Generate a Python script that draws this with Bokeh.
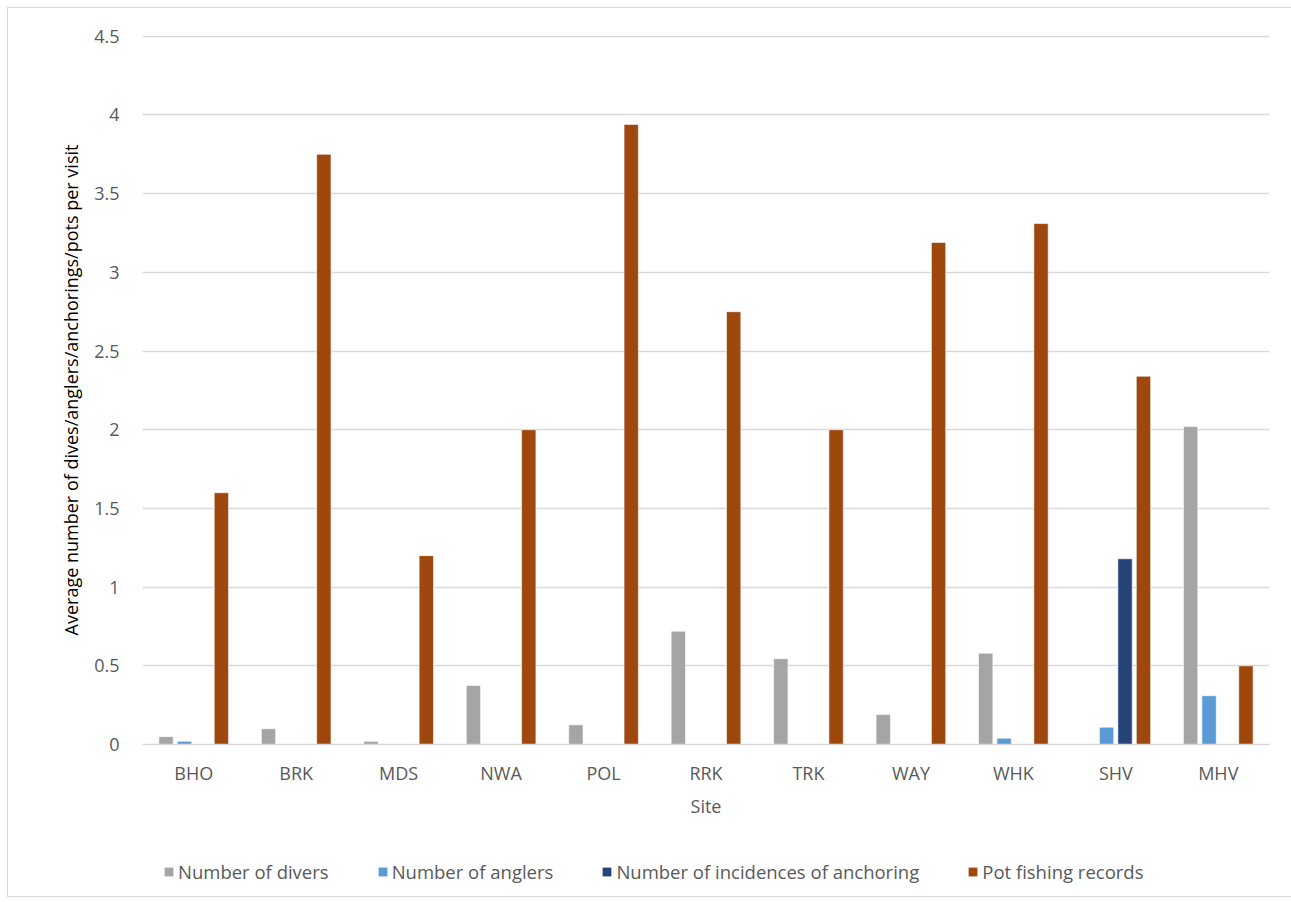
from bokeh.plotting import figure
from bokeh.layouts import column
from bokeh.models import ColumnDataSource, FactorRange, Range1d, Legend, LegendItem, FixedTicker
from bokeh.transform import dodge
from bokeh.embed import file_html
from bokeh.resources import INLINE

sites = ["BHO", "BRK", "MDS", "NWA", "POL", "RRK", "TRK", "WAY", "WHK", "SHV", "MHV"]
divers = [0.05, 0.10, 0.02, 0.375, 0.125, 0.72, 0.545, 0.19, 0.58, 0.0, 2.02]
anglers = [0.02, 0.0, 0.0, 0.0, 0.0, 0.0, 0.0, 0.0, 0.04, 0.11, 0.31]
anchoring = [0.0, 0.0, 0.0, 0.0, 0.0, 0.0, 0.0, 0.0, 0.0, 1.18, 0.0]
pots = [1.6, 3.75, 1.2, 2.0, 3.94, 2.75, 2.0, 3.19, 3.31, 2.34, 0.5]

series_names = ["Number of divers", "Number of anglers", "Number of incidences of anchoring", "Pot fishing records"]
series_keys = ["divers", "anglers", "anchoring", "pots"]
colors = ["#A5A5A5", "#5B9BD5", "#264478", "#9E480E"]
offsets = [-0.27, -0.09, 0.09, 0.27]
y_ticks = [0, 0.5, 1, 1.5, 2, 2.5, 3, 3.5, 4, 4.5]

FONT = "Open Sans"
TXT = "#595959"

src = ColumnDataSource(dict(site=sites, divers=divers, anglers=anglers, anchoring=anchoring, pots=pots))

p = figure(width=1283, height=828, x_range=FactorRange(*sites), y_range=Range1d(0, 4.505),
           output_backend="svg", toolbar_location=None)
p.min_border_left = 134
p.min_border_right = 22
p.min_border_top = 27
p.min_border_bottom = 92
p.outline_line_color = None

for key, col, off in zip(series_keys, colors, offsets):
    p.vbar(x=dodge("site", off, range=p.x_range), top=key, width=0.14, source=src,
           fill_color=col, line_color="white", line_width=0.6)

p.yaxis.ticker = FixedTicker(ticks=y_ticks)
p.yaxis.major_label_overrides = {t: ("%g" % t) for t in y_ticks}
p.yaxis.axis_line_color = None
p.yaxis.major_tick_line_color = None
p.yaxis.minor_tick_line_color = None
p.yaxis.major_label_text_font = FONT
p.yaxis.major_label_text_font_size = "18px"
p.yaxis.major_label_text_color = TXT
p.yaxis.major_label_standoff = 17
p.yaxis.axis_label = "Average number of dives/anglers/anchorings/pots per visit"
p.yaxis.axis_label_text_font = FONT
p.yaxis.axis_label_text_font_size = "18px"
p.yaxis.axis_label_text_font_style = "normal"
p.yaxis.axis_label_text_color = "#000000"
p.yaxis.axis_label_standoff = 8

p.xaxis.axis_line_color = "#D9D9D9"
p.xaxis.axis_line_width = 1.5
p.xaxis.major_tick_line_color = None
p.xaxis.minor_tick_line_color = None
p.xaxis.major_label_text_font = FONT
p.xaxis.major_label_text_font_size = "18px"
p.xaxis.major_label_text_color = TXT
p.xaxis.major_label_standoff = 10
p.xaxis.axis_label = "Site"
p.xaxis.axis_label_text_font = FONT
p.xaxis.axis_label_text_font_size = "18px"
p.xaxis.axis_label_text_font_style = "normal"
p.xaxis.axis_label_text_color = TXT
p.xaxis.axis_label_standoff = 6

p.xgrid.grid_line_color = None
p.ygrid.grid_line_color = "#D9D9D9"
p.ygrid.grid_line_width = 1.5

# legend strip below the chart
leg = figure(width=1283, height=60, x_range=Range1d(0, 1), y_range=Range1d(0, 1),
             output_backend="svg", toolbar_location=None, min_border=0)
leg.axis.visible = False
leg.grid.visible = False
leg.outline_line_color = None
items = []
for name, col in zip(series_names, colors):
    r = leg.vbar(x=[0.5], top=[-5], bottom=[-6], width=0.1, fill_color=col, line_color=None)
    items.append(LegendItem(label=name, renderers=[r]))
legend = Legend(items=items, orientation="horizontal", location=(21, 12),
                label_text_font=FONT, label_text_font_size="18.5px", label_text_color=TXT,
                glyph_width=11, glyph_height=11, spacing=48, label_standoff=4,
                border_line_color=None, background_fill_alpha=0, margin=0, padding=2)
leg.add_layout(legend, "center")

layout = column(p, leg, spacing=0)
layout.margin = (7, 0, 0, 7)
layout.styles = {"border": "1px solid #D9D9D9"}

open("out.html", "w").write(file_html(layout, INLINE))
